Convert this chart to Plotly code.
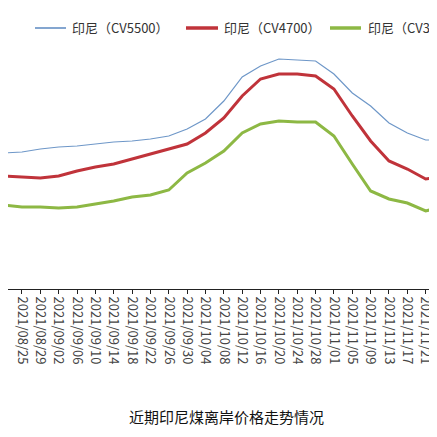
import plotly.graph_objects as go
import pandas as pd

# dates every 4 days, values read as height above the axis (arbitrary units, no y axis shown)
dates = pd.date_range("2021-08-21", "2021-11-25", freq="4D")
tick_dates = pd.date_range("2021-08-25", "2021-11-25", freq="4D")

cv5500 = [152, 151, 148, 146, 145, 143, 141, 140, 138, 135, 128, 118, 100,
          76, 65, 58, 59, 60, 73, 92, 105, 122, 132, 139, 139]
cv4700 = [175, 176, 177, 175, 170, 166, 163, 158, 153, 148, 143, 132, 117,
          95, 78, 73, 73, 75, 88, 115, 140, 160, 168, 178, 175]
cv3800 = [204, 206, 206, 207, 206, 203, 200, 196, 194, 189, 172, 162, 150,
          132, 123, 120, 121, 121, 135, 163, 190, 198, 202, 210, 205]

names = ["印尼（CV5500）", "印尼（CV4700）", "印尼（CV3800）"]
colors = ["#6e97c8", "#c0333a", "#8db844"]
widths = [1.2, 3, 3]
series = [cv5500, cv4700, cv3800]

fig = go.Figure()
for name, vals, c, w in zip(names, series, colors, widths):
    fig.add_trace(go.Scatter(x=dates, y=[281 - v for v in vals], mode="lines",
                             name=name, line=dict(color=c, width=w)))

# legend drawn by hand so it stays on one row and runs off the edge like the source
legend_x = [(27, 58, 62), (178, 210, 214), (322, 353, 358)]
for (x0, x1, tx), name, c, w in zip(legend_x, names, colors, widths):
    fig.add_shape(type="line", xref="paper", yref="paper", x0=x0 / 437, x1=x1 / 437,
                  y0=1 - 20 / 281, y1=1 - 20 / 281, line=dict(color=c, width=w + 0.5))
    fig.add_annotation(xref="paper", yref="paper", x=tx / 437, y=1 - 20 / 281,
                       text=name, showarrow=False, xanchor="left", yanchor="middle",
                       font=dict(size=13, color="#333"))

fig.add_annotation(xref="paper", yref="paper", x=0.5, y=-140 / 281,
                   text="近期印尼煤离岸价格走势情况", showarrow=False,
                   font=dict(size=15, color="#111"))

fig.update_layout(
    width=437, height=437, margin=dict(l=0, r=0, t=0, b=156),
    plot_bgcolor="white", paper_bgcolor="white", showlegend=False,
    font=dict(family="Noto Sans CJK SC"),
    xaxis=dict(range=["2021-08-21 23:00", "2021-11-25 05:00"], tickvals=tick_dates,
               ticktext=[d.strftime("%Y/%m/%d") for d in tick_dates], tickangle=90,
               ticks="outside", ticklen=4, tickcolor="#222", showline=True,
               linecolor="#222", showgrid=False, tickfont=dict(size=13, color="#444")),
    yaxis=dict(range=[-7, 274], visible=False),
)
fig.write_html("out.html")
